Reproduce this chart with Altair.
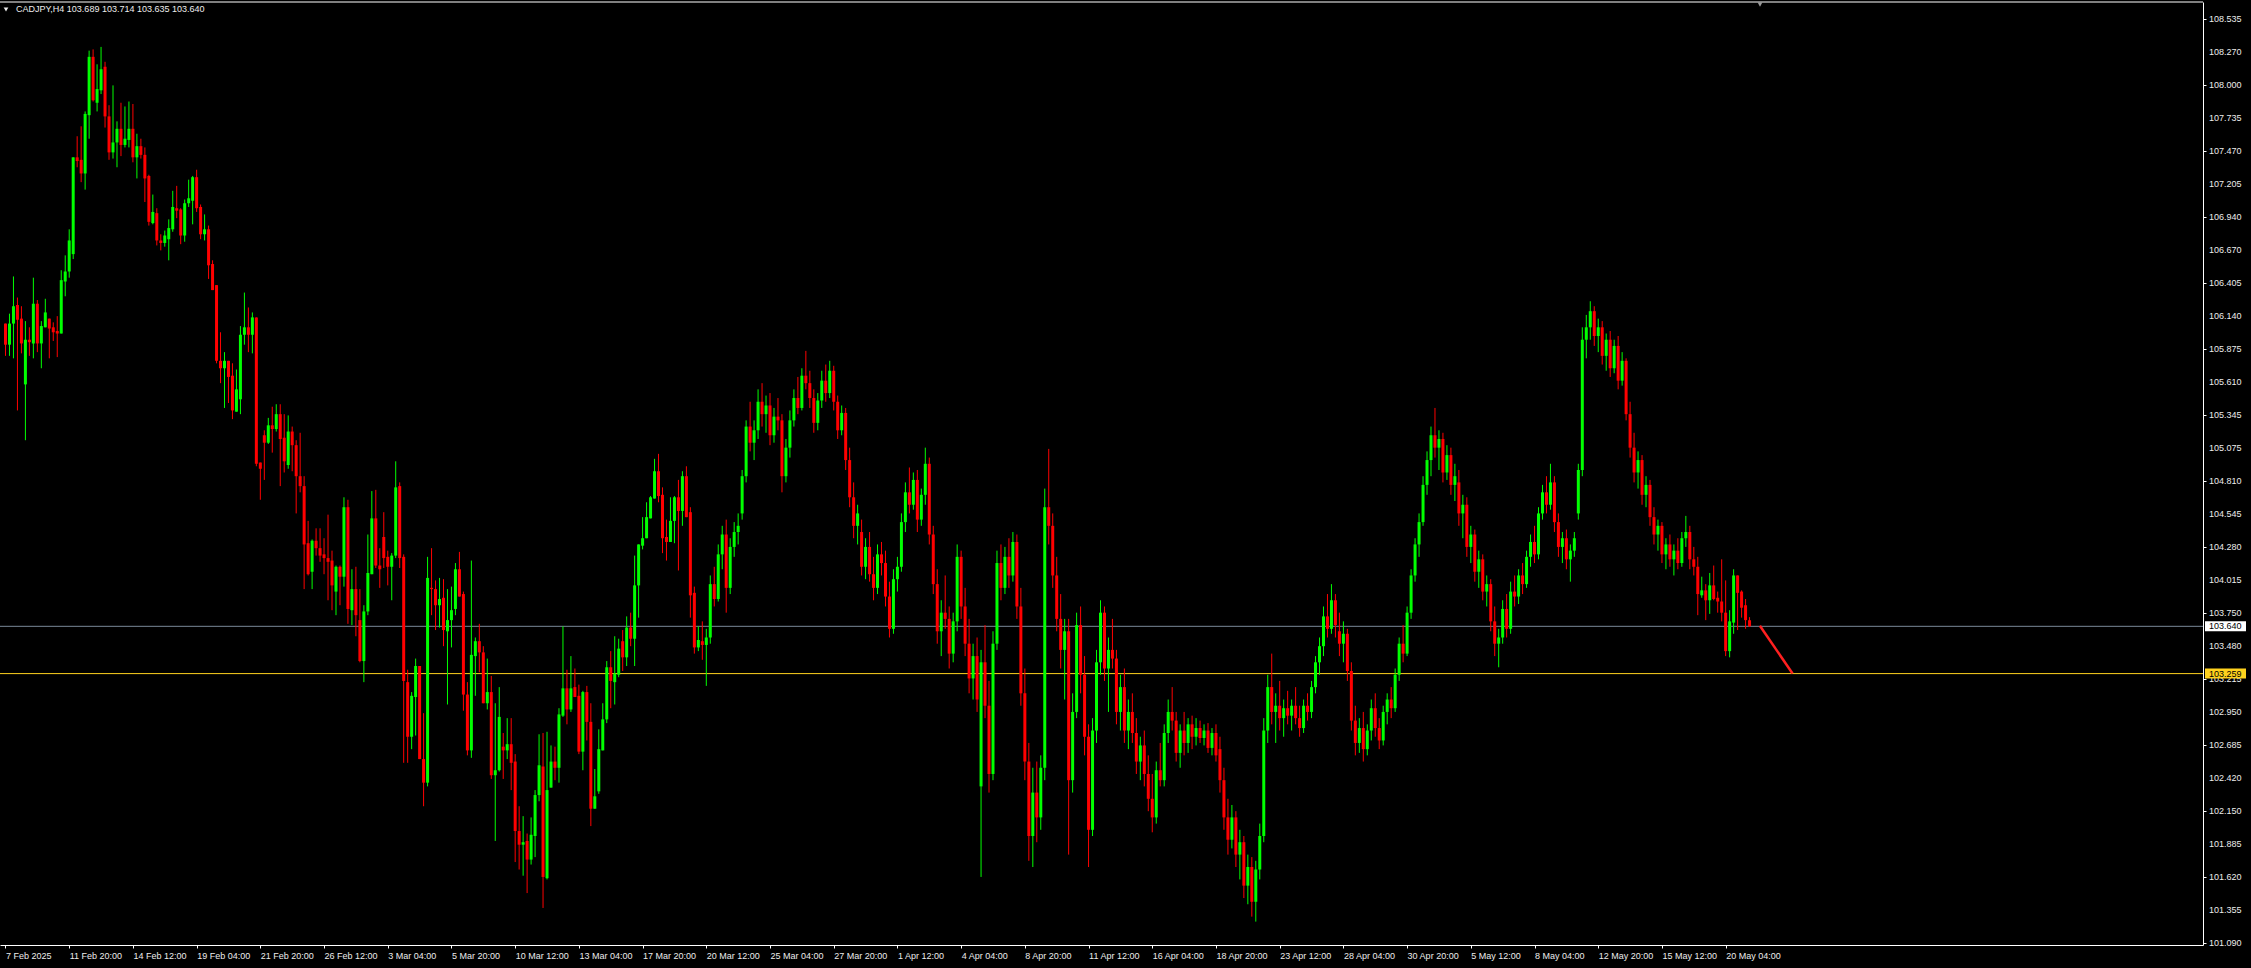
import altair as alt
import pandas as pd

# CADJPY H4 candles, oldest first (bar 0 = 7 Feb 2025 04:00, last bar = 21 May 04:00)
bar_open = [
    106.08, 105.91, 106.08, 106.23, 106.12, 105.59, 105.95, 105.92, 106.24, 105.92,
    106.05, 106.12, 106.05, 106.02, 106.00, 106.42, 106.50, 106.64, 107.42, 107.40,
    107.29, 107.76, 108.23, 107.86, 107.96, 108.15, 107.75, 107.46, 107.54, 107.65,
    107.52, 107.56, 107.65, 107.42, 107.51, 107.44, 107.27, 106.89, 106.97, 106.75,
    106.73, 106.76, 106.84, 107.01, 107.00, 106.79, 107.05, 107.07, 107.26, 107.02,
    106.80, 106.84, 106.56, 106.39, 105.78, 105.72, 105.78, 105.66, 105.37, 105.47,
    105.99, 106.05, 105.99, 106.13, 104.96, 105.18, 105.12, 105.26, 105.23, 105.35,
    105.16, 104.94, 105.21, 105.10, 104.85, 104.77, 104.31, 104.08, 104.33, 104.27,
    104.22, 104.19, 104.17, 103.92, 104.12, 104.04, 104.60, 103.77, 103.94, 103.69,
    103.36, 103.76, 104.06, 104.51, 104.13, 104.36, 104.20, 104.12, 104.21, 104.77,
    104.20, 103.19, 102.75, 103.07, 103.32, 102.57, 102.38, 103.95, 103.94, 103.81,
    103.87, 103.60, 103.69, 103.78, 104.10, 103.90, 103.09, 102.64, 103.40, 103.52,
    103.43, 103.02, 103.11, 102.44, 102.48, 102.67, 102.64, 102.69, 102.55, 101.99,
    101.88, 101.91, 101.76, 101.95, 102.28, 102.51, 101.61, 102.34, 102.55, 102.50,
    102.92, 103.14, 102.97, 103.15, 103.08, 102.63, 103.11, 102.87, 102.17, 102.31,
    102.64, 102.89, 103.31, 103.19, 103.25, 103.52, 103.39, 103.63, 103.54, 103.97,
    104.29, 104.35, 104.51, 104.67, 104.89, 104.70, 104.36, 104.32, 104.49, 104.68,
    104.57, 104.85, 104.56, 103.91, 103.47, 103.52,
    103.49, 103.55, 103.98, 103.86, 104.22, 104.38, 103.95, 104.28, 104.40, 104.55,
    104.85, 105.25, 105.12, 105.22, 105.45, 105.35, 105.42, 105.18, 105.33, 105.30,
    104.85, 105.08, 105.30, 105.48, 105.40, 105.66, 105.60, 105.48, 105.28, 105.46,
    105.62, 105.52, 105.70, 105.45, 105.22, 105.36, 104.98, 104.68, 104.45, 104.40,
    104.12, 104.28, 104.06, 103.95, 104.22, 104.15, 103.88, 103.62, 104.02, 104.12,
    104.48, 104.72, 104.62, 104.82, 104.50, 104.70, 104.95, 104.38, 103.98, 103.60,
    103.75, 103.70, 103.42, 103.68, 104.20, 103.80, 103.50, 103.22, 103.40, 102.35,
    103.35, 103.00, 102.45, 103.50, 104.15, 103.95, 104.20, 104.05, 104.32, 103.80,
    103.10, 102.55, 101.95, 102.30, 102.10, 102.50, 104.60, 104.45, 104.05, 103.70,
    103.45, 103.60, 102.40, 102.95, 103.65, 103.25, 102.75, 102.00, 102.80, 103.35,
    103.75, 103.30, 103.45, 103.38, 102.95, 103.15, 102.80, 102.95, 102.78, 102.55,
    102.68, 102.45, 102.25, 102.10, 102.48, 102.40, 102.78, 102.95, 102.88, 102.62,
    102.80, 102.70, 102.85, 102.75, 102.82, 102.74, 102.80, 102.66, 102.78, 102.65,
    102.40, 102.10, 101.92, 102.10, 101.80, 101.90, 101.55, 101.70, 101.42, 101.68,
    101.95, 102.80, 103.15, 102.95, 103.00, 102.90, 102.98, 102.92, 103.00, 102.90,
    102.82, 103.00, 102.95, 103.15, 103.35, 103.48, 103.72, 103.62, 103.85, 103.60,
    103.50, 103.58, 103.28, 102.88, 102.70, 102.82, 102.65, 102.80, 102.98, 102.82,
    102.72, 102.95, 103.05, 102.98, 103.25, 103.50, 103.42, 103.75, 104.05, 104.30,
    104.48, 104.78, 104.98, 105.18, 105.08, 105.15, 104.88, 105.02, 104.78, 104.80,
    104.55, 104.62, 104.28, 104.38, 104.08, 104.18, 103.92, 103.98, 103.68, 103.50,
    103.55, 103.78, 103.62, 103.92, 103.88, 104.05, 103.98, 104.20, 104.32, 104.22,
    104.55, 104.72, 104.62, 104.80, 104.48, 104.28, 104.35, 104.18, 104.25, 104.55,
    104.90, 105.95, 106.05, 106.18, 105.98, 106.05, 105.82, 105.95, 105.72, 105.90,
    105.62, 105.78, 105.35, 105.08, 104.88, 104.98, 104.70, 104.78, 104.52, 104.38,
    104.45, 104.22, 104.30, 104.18, 104.25, 104.15, 104.35, 104.40, 104.18, 104.12,
    103.89, 103.93, 103.85, 103.97, 103.87, 103.84, 103.75, 103.44, 103.67, 104.05,
    103.92, 103.81, 103.689,
]
bar_high = [
    106.08, 106.16, 106.46, 106.29, 106.22, 106.10, 106.05, 106.45, 106.27, 106.10,
    106.28, 106.12, 106.09, 106.14, 106.51, 106.63, 106.84, 107.42, 107.59, 107.67,
    107.79, 108.28, 108.29, 108.17, 108.31, 108.19, 107.84, 108.00, 107.71, 107.86,
    107.83, 107.87, 107.85, 107.61, 107.57, 107.50, 107.28, 107.12, 107.01, 106.80,
    106.83, 106.92, 107.15, 107.19, 107.01, 107.08, 107.24, 107.27, 107.32, 107.04,
    106.96, 106.87, 106.59, 106.39, 106.01, 105.85, 105.78, 105.76, 105.71, 106.06,
    106.33, 106.21, 106.17, 106.13, 104.96, 105.22, 105.32, 105.41, 105.43, 105.43,
    105.35, 105.34, 105.25, 105.14, 105.20, 104.85, 104.49, 104.34, 104.43, 104.43,
    104.35, 104.54, 104.25, 104.13, 104.13, 104.68, 104.66, 104.10, 104.12, 103.94,
    103.81, 104.38, 104.73, 104.74, 104.27, 104.56, 104.25, 104.23, 104.97, 104.80,
    104.22, 103.29, 103.11, 103.38, 103.32, 102.94, 104.20, 104.27, 104.01, 104.03,
    104.02, 103.94, 103.96, 104.15, 104.24, 103.92, 103.19, 104.17, 103.55, 103.66,
    103.48, 103.38, 103.24, 103.02, 103.15, 102.78, 102.90, 102.90, 102.61, 102.19,
    102.11, 101.97, 102.10, 102.32, 102.77, 102.78, 102.79, 102.68, 102.67, 102.98,
    103.64, 103.29, 103.40, 103.30, 103.17, 103.12, 103.16, 103.02, 102.49, 102.81,
    103.02, 103.36, 103.44, 103.56, 103.54, 103.61, 103.72, 103.75, 104.21, 104.30,
    104.52, 104.64, 104.69, 104.99, 105.03, 104.76, 104.50, 104.68, 104.69, 104.82,
    104.89, 104.93, 104.60, 103.96, 103.64, 103.68,
    103.62, 104.05, 104.12, 104.30, 104.45, 104.50, 104.35, 104.48, 104.55, 104.90,
    105.30, 105.45, 105.30, 105.55, 105.60, 105.50, 105.52, 105.40, 105.48, 105.35,
    105.15, 105.38, 105.55, 105.65, 105.72, 105.86, 105.70, 105.55, 105.52, 105.70,
    105.75, 105.78, 105.74, 105.50, 105.42, 105.40, 105.08, 104.80, 104.62, 104.50,
    104.35, 104.40, 104.20, 104.30, 104.32, 104.25, 104.00, 104.10, 104.20, 104.55,
    104.80, 104.92, 104.88, 104.90, 104.75, 105.08, 105.00, 104.45, 104.10, 103.85,
    104.05, 103.80, 103.75, 104.30, 104.25, 103.95, 103.70, 103.50, 103.55, 103.45,
    103.65, 103.20, 103.60, 104.25, 104.30, 104.28, 104.35, 104.40, 104.38, 103.95,
    103.30, 102.70, 102.50, 102.55, 102.60, 104.75, 105.07, 104.55, 104.20, 103.90,
    103.70, 103.70, 103.10, 103.75, 103.80, 103.40, 102.85, 102.90, 103.45, 103.85,
    103.80, 103.55, 103.70, 103.45, 103.25, 103.30, 103.05, 103.10, 102.90, 102.75,
    102.80, 102.60, 102.45, 102.55, 102.70, 102.85, 103.05, 103.15, 102.95, 102.85,
    102.95, 102.90, 102.92, 102.90, 102.88, 102.85, 102.86, 102.82, 102.85, 102.75,
    102.50, 102.25, 102.20, 102.15, 102.00, 101.95, 101.80, 101.78, 101.75, 102.05,
    102.90, 103.25, 103.42, 103.10, 103.20, 103.05, 103.12, 103.05, 103.15, 103.00,
    103.05, 103.10, 103.20, 103.40, 103.55, 103.80, 103.90, 103.98, 103.90, 103.75,
    103.68, 103.62, 103.35, 103.00, 102.90, 102.95, 102.85, 103.05, 103.10, 102.90,
    103.00, 103.10, 103.15, 103.30, 103.55, 103.65, 103.80, 104.10, 104.35, 104.55,
    104.85, 105.05, 105.25, 105.40, 105.22, 105.20, 105.10, 105.08, 104.95, 104.90,
    104.70, 104.68, 104.45, 104.42, 104.25, 104.22, 104.05, 104.02, 103.80, 103.62,
    103.85, 103.90, 104.00, 104.05, 104.10, 104.15, 104.25, 104.38, 104.45, 104.60,
    104.78, 104.85, 104.95, 104.85, 104.55, 104.40, 104.42, 104.30, 104.40, 104.95,
    106.05, 106.15, 106.26, 106.22, 106.12, 106.10, 106.00, 106.02, 105.95, 105.98,
    105.85, 105.80, 105.45, 105.20, 105.05, 105.02, 104.85, 104.82, 104.60, 104.50,
    104.48, 104.35, 104.38, 104.30, 104.35, 104.40, 104.53, 104.45, 104.28, 104.20,
    104.04, 103.98, 104.07, 104.13, 103.92, 104.18, 104.01, 103.77, 104.10, 104.05,
    103.93, 103.86, 103.714,
]
bar_low = [
    105.82, 105.82, 105.80, 105.38, 105.84, 105.14, 105.82, 105.80, 105.85, 105.72,
    106.05, 105.80, 105.94, 105.81, 106.00, 106.30, 106.45, 106.60, 107.34, 107.22,
    107.16, 107.57, 107.87, 107.79, 107.93, 107.66, 107.40, 107.41, 107.34, 107.43,
    107.50, 107.50, 107.38, 107.25, 107.41, 107.06, 106.87, 106.88, 106.71, 106.67,
    106.70, 106.59, 106.82, 106.93, 106.72, 106.74, 107.02, 106.88, 106.98, 106.76,
    106.75, 106.44, 106.35, 105.76, 105.60, 105.40, 105.44, 105.31, 105.37, 105.35,
    105.91, 105.85, 105.84, 104.93, 104.66, 104.82, 105.11, 105.04, 105.21, 104.77,
    104.88, 104.91, 104.89, 104.55, 104.72, 103.94, 104.05, 103.94, 104.21, 104.16,
    104.06, 103.85, 103.77, 103.73, 103.81, 103.96, 103.66, 103.65, 103.56, 103.35,
    103.19, 103.73, 104.06, 104.11, 103.95, 104.11, 103.97, 103.85, 104.19, 104.11,
    102.54, 102.54, 102.65, 102.76, 102.57, 102.19, 102.35, 103.73, 103.61, 103.63,
    103.48, 103.01, 103.47, 103.73, 103.88, 102.96, 102.60, 102.58, 103.08, 103.27,
    103.02, 102.97, 102.41, 101.91, 102.47, 102.41, 102.57, 102.32, 101.74, 101.68,
    101.63, 101.49, 101.72, 101.78, 102.23, 101.37, 101.60, 102.34, 102.40, 102.38,
    102.91, 102.85, 102.95, 103.07, 102.61, 102.48, 102.72, 102.03, 102.17, 102.29,
    102.64, 102.86, 102.98, 103.01, 103.23, 103.28, 103.32, 103.48, 103.32, 103.71,
    104.26, 104.35, 104.51, 104.67, 104.64, 104.23, 104.17, 104.32, 104.31, 104.09,
    104.45, 104.52, 103.71, 103.42, 103.44, 103.37,
    103.16, 103.50, 103.80, 103.84, 104.10, 103.75, 103.90, 104.20, 104.30, 104.50,
    104.80, 105.05, 104.98, 105.15, 105.25, 105.20, 105.10, 105.12, 105.22, 104.72,
    104.80, 105.00, 105.25, 105.35, 105.38, 105.55, 105.40, 105.20, 105.22, 105.40,
    105.45, 105.48, 105.38, 105.15, 105.18, 104.90, 104.60, 104.35, 104.30, 104.05,
    104.02, 104.00, 103.85, 103.90, 104.05, 103.80, 103.55, 103.58, 103.92, 104.08,
    104.40, 104.55, 104.58, 104.40, 104.45, 104.62, 104.30, 103.90, 103.50, 103.40,
    103.62, 103.30, 103.35, 103.60, 103.70, 103.40, 103.10, 103.05, 102.95, 101.62,
    102.90, 102.30, 102.40, 103.45, 103.85, 103.90, 103.95, 104.00, 103.70, 103.00,
    102.40, 101.75, 101.70, 101.90, 102.00, 102.40, 104.30, 103.95, 103.60, 103.30,
    103.05, 101.80, 102.30, 102.90, 103.10, 102.60, 101.70, 101.95, 102.70, 103.25,
    103.20, 102.95, 103.30, 102.85, 102.80, 102.70, 102.65, 102.70, 102.45, 102.40,
    102.35, 102.15, 101.98, 102.05, 102.35, 102.35, 102.70, 102.80, 102.55, 102.50,
    102.60, 102.62, 102.65, 102.68, 102.70, 102.68, 102.62, 102.60, 102.55, 102.30,
    102.00, 101.80, 101.85, 101.70, 101.60, 101.45, 101.40, 101.30, 101.26, 101.60,
    101.90, 102.70, 102.85, 102.70, 102.80, 102.75, 102.85, 102.80, 102.85, 102.75,
    102.78, 102.88, 102.90, 103.10, 103.25, 103.40, 103.55, 103.58, 103.55, 103.40,
    103.35, 103.20, 102.80, 102.60, 102.62, 102.55, 102.60, 102.72, 102.75, 102.65,
    102.68, 102.85, 102.90, 102.95, 103.20, 103.35, 103.40, 103.70, 104.00, 104.20,
    104.45, 104.70, 104.85, 105.00, 104.90, 104.80, 104.82, 104.70, 104.65, 104.45,
    104.35, 104.20, 104.15, 104.00, 103.95, 103.85, 103.80, 103.60, 103.40, 103.31,
    103.50, 103.55, 103.58, 103.80, 103.82, 103.90, 103.95, 104.12, 104.15, 104.18,
    104.50, 104.55, 104.58, 104.40, 104.20, 104.15, 104.10, 104.00, 104.20, 104.50,
    104.85, 105.80, 105.95, 105.90, 105.85, 105.75, 105.70, 105.65, 105.68, 105.55,
    105.58, 105.30, 105.00, 104.80, 104.75, 104.62, 104.60, 104.45, 104.30, 104.25,
    104.15, 104.10, 104.12, 104.05, 104.10, 104.12, 104.28, 104.10, 104.05, 103.73,
    103.87, 103.69, 103.74, 103.85, 103.75, 103.68, 103.40, 103.39, 103.58, 103.61,
    103.71, 103.62, 103.635,
]
bar_close = [
    105.91, 106.08, 106.22, 106.11, 105.92, 105.95, 105.93, 106.24, 105.92, 106.06,
    106.17, 106.04, 106.01, 106.00, 106.43, 106.50, 106.75, 107.42, 107.39, 107.29,
    107.77, 108.23, 107.88, 107.97, 108.13, 107.75, 107.46, 107.54, 107.65, 107.52,
    107.57, 107.65, 107.42, 107.51, 107.44, 107.25, 106.90, 106.98, 106.75, 106.73,
    106.79, 106.85, 107.02, 106.99, 106.79, 107.05, 107.09, 107.26, 107.01, 106.80,
    106.84, 106.55, 106.35, 105.78, 105.72, 105.78, 105.65, 105.38, 105.55, 105.99,
    106.05, 105.99, 106.13, 104.95, 104.91, 105.12, 105.26, 105.23, 105.35, 105.15,
    104.97, 105.21, 105.10, 104.85, 104.77, 104.30, 104.06, 104.33, 104.27, 104.21,
    104.19, 104.16, 103.97, 104.12, 104.04, 104.60, 103.78, 103.94, 103.73, 103.36,
    103.76, 104.07, 104.51, 104.13, 104.10, 104.19, 104.12, 104.21, 104.76, 104.19,
    103.20, 102.75, 103.08, 103.32, 102.57, 102.38, 104.03, 103.94, 103.81, 103.86,
    103.61, 103.69, 103.77, 104.10, 103.88, 103.09, 102.64, 103.41, 103.52, 103.43,
    103.02, 103.11, 102.44, 102.48, 102.91, 102.64, 102.69, 102.54, 101.99, 101.88,
    101.90, 101.76, 101.96, 102.28, 102.52, 101.62, 102.32, 102.55, 102.50, 102.93,
    103.14, 102.97, 103.14, 103.07, 102.63, 103.11, 102.87, 102.17, 102.27, 102.65,
    102.89, 103.31, 103.20, 103.26, 103.46, 103.39, 103.63, 103.54, 103.97, 104.30,
    104.35, 104.52, 104.68, 104.89, 104.69, 104.35, 104.32, 104.49, 104.68, 104.57,
    104.85, 104.52, 103.89, 103.47, 103.53, 103.49,
    103.55, 103.98, 103.86, 104.22, 104.38, 103.95, 104.28, 104.40, 104.45, 104.85,
    105.25, 105.12, 105.22, 105.45, 105.35, 105.42, 105.18, 105.33, 105.30, 104.85,
    105.08, 105.30, 105.48, 105.40, 105.66, 105.60, 105.48, 105.28, 105.46, 105.62,
    105.52, 105.70, 105.45, 105.22, 105.36, 104.98, 104.68, 104.45, 104.55, 104.12,
    104.28, 104.06, 103.95, 104.22, 104.15, 103.88, 103.62, 104.02, 104.12, 104.48,
    104.72, 104.62, 104.82, 104.50, 104.70, 104.95, 104.38, 103.98, 103.60, 103.75,
    103.70, 103.42, 103.68, 104.20, 103.80, 103.50, 103.22, 103.40, 103.05, 103.35,
    103.00, 102.45, 103.50, 104.15, 103.95, 104.20, 104.05, 104.32, 103.80, 103.10,
    102.55, 101.95, 102.30, 102.10, 102.50, 104.60, 104.45, 104.05, 103.70, 103.45,
    103.60, 102.40, 102.95, 103.65, 103.25, 102.75, 102.00, 102.80, 103.35, 103.75,
    103.30, 103.45, 103.38, 102.95, 103.15, 102.80, 102.95, 102.78, 102.55, 102.68,
    102.45, 102.25, 102.10, 102.48, 102.40, 102.78, 102.95, 102.88, 102.62, 102.80,
    102.70, 102.85, 102.75, 102.82, 102.74, 102.80, 102.66, 102.78, 102.60, 102.40,
    102.10, 101.92, 102.10, 101.80, 101.90, 101.55, 101.70, 101.42, 101.68, 101.95,
    102.80, 103.15, 102.95, 103.00, 102.90, 102.98, 102.92, 103.00, 102.90, 102.82,
    103.00, 102.95, 103.15, 103.35, 103.48, 103.72, 103.62, 103.85, 103.65, 103.50,
    103.58, 103.28, 102.88, 102.70, 102.82, 102.65, 102.80, 102.98, 102.82, 102.72,
    102.95, 103.05, 102.98, 103.25, 103.50, 103.42, 103.75, 104.05, 104.30, 104.48,
    104.78, 104.98, 105.18, 105.08, 105.15, 104.88, 105.02, 104.78, 104.85, 104.55,
    104.62, 104.28, 104.38, 104.08, 104.18, 103.92, 103.98, 103.68, 103.50, 103.55,
    103.78, 103.62, 103.92, 103.88, 104.05, 103.98, 104.20, 104.32, 104.22, 104.55,
    104.72, 104.62, 104.80, 104.48, 104.28, 104.35, 104.18, 104.25, 104.35, 104.90,
    105.95, 106.05, 106.18, 105.98, 106.05, 105.82, 105.95, 105.72, 105.90, 105.62,
    105.78, 105.35, 105.08, 104.88, 104.98, 104.70, 104.78, 104.52, 104.38, 104.45,
    104.22, 104.30, 104.18, 104.25, 104.15, 104.35, 104.40, 104.18, 104.12, 103.90,
    103.93, 103.85, 103.97, 103.86, 103.84, 103.75, 103.44, 103.68, 104.05, 103.91,
    103.79, 103.69, 103.640,
]

# time axis: one label every 16 bars
time_ticks = list(range(0, 433, 16))
time_labels = [
    "7 Feb 2025", "11 Feb 20:00", "14 Feb 12:00", "19 Feb 04:00", "21 Feb 20:00",
    "26 Feb 12:00", "3 Mar 04:00", "5 Mar 20:00", "10 Mar 12:00", "13 Mar 04:00",
    "17 Mar 20:00", "20 Mar 12:00", "25 Mar 04:00", "27 Mar 20:00", "1 Apr 12:00",
    "4 Apr 04:00", "8 Apr 20:00", "11 Apr 12:00", "16 Apr 04:00", "18 Apr 20:00",
    "23 Apr 12:00", "28 Apr 04:00", "30 Apr 20:00", "5 May 12:00", "8 May 04:00",
    "12 May 20:00", "15 May 12:00", "20 May 04:00",
]
price_ticks = [
    108.535, 108.270, 108.000, 107.735, 107.470, 107.205, 106.940, 106.670,
    106.405, 106.140, 105.875, 105.610, 105.345, 105.075, 104.810, 104.545,
    104.280, 104.015, 103.750, 103.480, 103.215, 102.950, 102.685, 102.420,
    102.150, 101.885, 101.620, 101.355, 101.090,
]
bid_price = 103.640
level_price = 103.259
trend_bars = [440.6, 448.8]
trend_prices = [103.645, 103.260]
header = "CADJPY,H4  103.689 103.714 103.635 103.640"

W, H = 2203, 943
FONT = "Liberation Sans"
FG = "#ececec"
UP, DOWN = "#00ff00", "#ff0000"

candles = pd.DataFrame({
    "bar": range(len(bar_close)),
    "open": bar_open, "high": bar_high, "low": bar_low, "close": bar_close,
})
candles["dir"] = ["up" if c >= o else "down" for o, c in zip(candles.open, candles.close)]

label_array = "[" + ",".join("'" + t + "'" for t in time_labels) + "]"

x_scale = alt.Scale(domain=[-0.125, 550.625], nice=False, zero=False)
y_scale = alt.Scale(domain=[101.0715, 108.672], nice=False, zero=False)
color = alt.Color("dir:N", scale=alt.Scale(domain=["up", "down"], range=[UP, DOWN]), legend=None)

x_axis = alt.Axis(
    orient="bottom", values=time_ticks, labelExpr=f"{label_array}[round(datum.value/16)]",
    domainColor="white", tickColor="white", tickSize=3, labelPadding=3,
    labelAlign="left", labelColor=FG, labelFont=FONT, labelFontSize=9,
    labelOverlap=False, labelFlush=False, grid=False, title=None,
)
# right price scale: line and ticks from the axis, every level's text drawn as its own mark
y_axis = alt.Axis(
    orient="right", values=price_ticks, labels=False,
    domainColor="white", tickColor="white", tickSize=3, grid=False, title=None,
)

base = alt.Chart(candles)
wicks = base.mark_rule(strokeWidth=1).encode(
    x=alt.X("bar:Q", scale=x_scale, axis=x_axis),
    y=alt.Y("low:Q", scale=y_scale, axis=y_axis),
    y2="high:Q",
    color=color,
)
bodies = base.mark_bar(size=3).encode(
    x="bar:Q", y="open:Q", y2="close:Q", color=color,
)

price_df = pd.DataFrame({"price": price_ticks, "label": [f"{p:.3f}" for p in price_ticks]})
price_labels = alt.Chart(price_df).mark_text(
    align="left", baseline="middle", font=FONT, fontSize=9, color=FG
).encode(x=alt.value(W + 6), y="price:Q", text="label:N")

bid_line = alt.Chart().mark_rule(color="#7a8899", strokeWidth=1).encode(y=alt.datum(bid_price))
level_line = alt.Chart().mark_rule(color="#ffd21e", strokeWidth=1).encode(y=alt.datum(level_price))

trend = alt.Chart(pd.DataFrame({"bar": trend_bars, "price": trend_prices})).mark_line(
    color="#ff2020", strokeWidth=2.5
).encode(x="bar:Q", y="price:Q")


def price_tag(price, fill):
    box = alt.Chart().mark_rect(color=fill, yOffset=-5, y2Offset=5).encode(
        x=alt.value(W + 2), x2=alt.value(W + 43), y=alt.datum(price), y2=alt.datum(price)
    )
    txt = alt.Chart().mark_text(
        align="left", baseline="middle", font=FONT, fontSize=9, color="black"
    ).encode(x=alt.value(W + 6), y=alt.datum(price), text=alt.value(f"{price:.3f}"))
    return box + txt


top_border = alt.Chart().mark_rule(color="white", strokeWidth=1).encode(
    x=alt.value(0), x2=alt.value(W), y=alt.value(0)
)
title_text = alt.Chart().mark_text(
    align="left", baseline="middle", font=FONT, fontSize=9, color=FG
).encode(x=alt.value(16), y=alt.value(7), text=alt.value(header))
title_arrow = alt.Chart().mark_point(
    shape="triangle-down", filled=True, size=22, color=FG, opacity=1
).encode(x=alt.value(6), y=alt.value(7.5))
shift_marker = alt.Chart().mark_point(
    shape="triangle-down", filled=True, size=25, color="#9a9a9a", opacity=1
).encode(x=alt.value(1760), y=alt.value(2.5))

chart = alt.layer(
    bid_line, level_line, wicks, bodies, trend, price_labels,
    price_tag(bid_price, "white"), price_tag(level_price, "#ffd21e"),
    top_border, title_text, title_arrow, shift_marker,
).properties(
    width=W, height=H,
    autosize=alt.AutoSizeParams(type="none"),
    padding={"left": 0, "top": 2, "right": 48, "bottom": 23},
    background="black",
).configure_view(stroke=None)

chart.save("out.html", embed_options={"renderer": "svg", "actions": False})
